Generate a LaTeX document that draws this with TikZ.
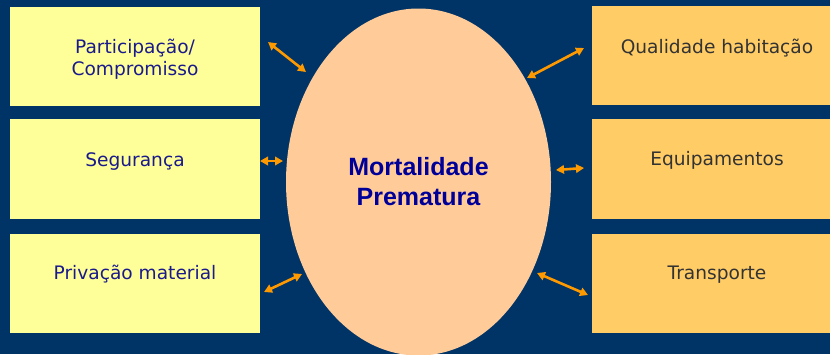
\documentclass[tikz,border=0pt]{standalone}
\usepackage{fontspec}
\setmainfont{DejaVu Sans}
\newfontfamily\boldarial{Liberation Sans}[BoldFont={Liberation Sans Bold}]
\usetikzlibrary{shapes.geometric,arrows.meta}
\definecolor{bgnavy}{HTML}{003366}
\definecolor{boxyellow}{HTML}{FFFF99}
\definecolor{boxorange}{HTML}{FFCC66}
\definecolor{ellpeach}{HTML}{FFCC99}
\definecolor{arroworange}{HTML}{FF9900}
\definecolor{lefttext}{HTML}{1A1A8C}
\definecolor{centertext}{HTML}{000099}
\definecolor{righttext}{HTML}{333333}
\tikzset{
  x=1pt, y=-1pt,
  leftbox/.style={rectangle, fill=boxyellow, draw=none, minimum width=250pt, minimum height=99pt, inner sep=0pt},
  rightbox/.style={rectangle, fill=boxorange, draw=none, minimum width=250pt, minimum height=99pt, inner sep=0pt},
  ltext/.style={anchor=base, text=lefttext, font=\fontsize{18.6}{22}\selectfont, inner sep=0pt, align=center},
  rtext/.style={anchor=base, text=righttext, font=\fontsize{18.6}{22}\selectfont, inner sep=0pt, align=center},
  link/.style={draw=arroworange, line width=2.6pt, {Triangle[length=8pt,width=8.5pt]}-{Triangle[length=8pt,width=8.5pt]}},
}
\begin{document}
\begin{tikzpicture}
\fill[bgnavy] (0,0) rectangle (830,354);
\useasboundingbox (0,0) rectangle (830,354);

% left boxes
\node[leftbox, minimum height=99pt] (L1) at (135,56.5) {};
\node[leftbox, minimum height=100pt] (L2) at (135,169) {};
\node[leftbox, minimum height=99pt] (L3) at (135,283.5) {};
% right boxes
\node[rightbox, minimum height=99pt] (R1) at (717,55.5) {};
\node[rightbox, minimum height=100pt] (R2) at (717,169) {};
\node[rightbox, minimum height=99pt] (R3) at (717,283.5) {};

% ellipse
\node[ellipse, fill=ellpeach, draw=none, minimum width=265pt, minimum height=347pt, inner sep=0pt,
      text=centertext, align=center, font=\boldarial\bfseries\fontsize{25}{30}\selectfont] (M) at (418.5,182) {Mortalidade\\Prematura};

% texts
\node[ltext] (tL1) at (135,53) {Participação/};
\node[ltext] (tL1b) at (135,75) {Compromisso};
\node[ltext] (tL2) at (135,166) {Segurança};
\node[ltext] (tL3) at (135,279) {Privação material};
\node[rtext] (tR1) at (717,53) {Qualidade habitação};
\node[rtext] (tR2) at (717,165) {Equipamentos};
\node[rtext] (tR3) at (717,279) {Transporte};

% arrow end points
\coordinate (a1) at (268,42);  \coordinate (b1) at (306,72);
\coordinate (a2) at (260,161); \coordinate (b2) at (283,161);
\coordinate (a3) at (264,292); \coordinate (b3) at (302,274);
\coordinate (c1) at (527,78);  \coordinate (d1) at (584,48);
\coordinate (c2) at (556,170); \coordinate (d2) at (584,168);
\coordinate (c3) at (537,273); \coordinate (d3) at (588,295);

\draw[link] (a1) -- (b1);
\draw[link] (a2) -- (b2);
\draw[link] (a3) -- (b3);
\draw[link] (c1) -- (d1);
\draw[link] (c2) -- (d2);
\draw[link] (c3) -- (d3);
\end{tikzpicture}
\end{document}
